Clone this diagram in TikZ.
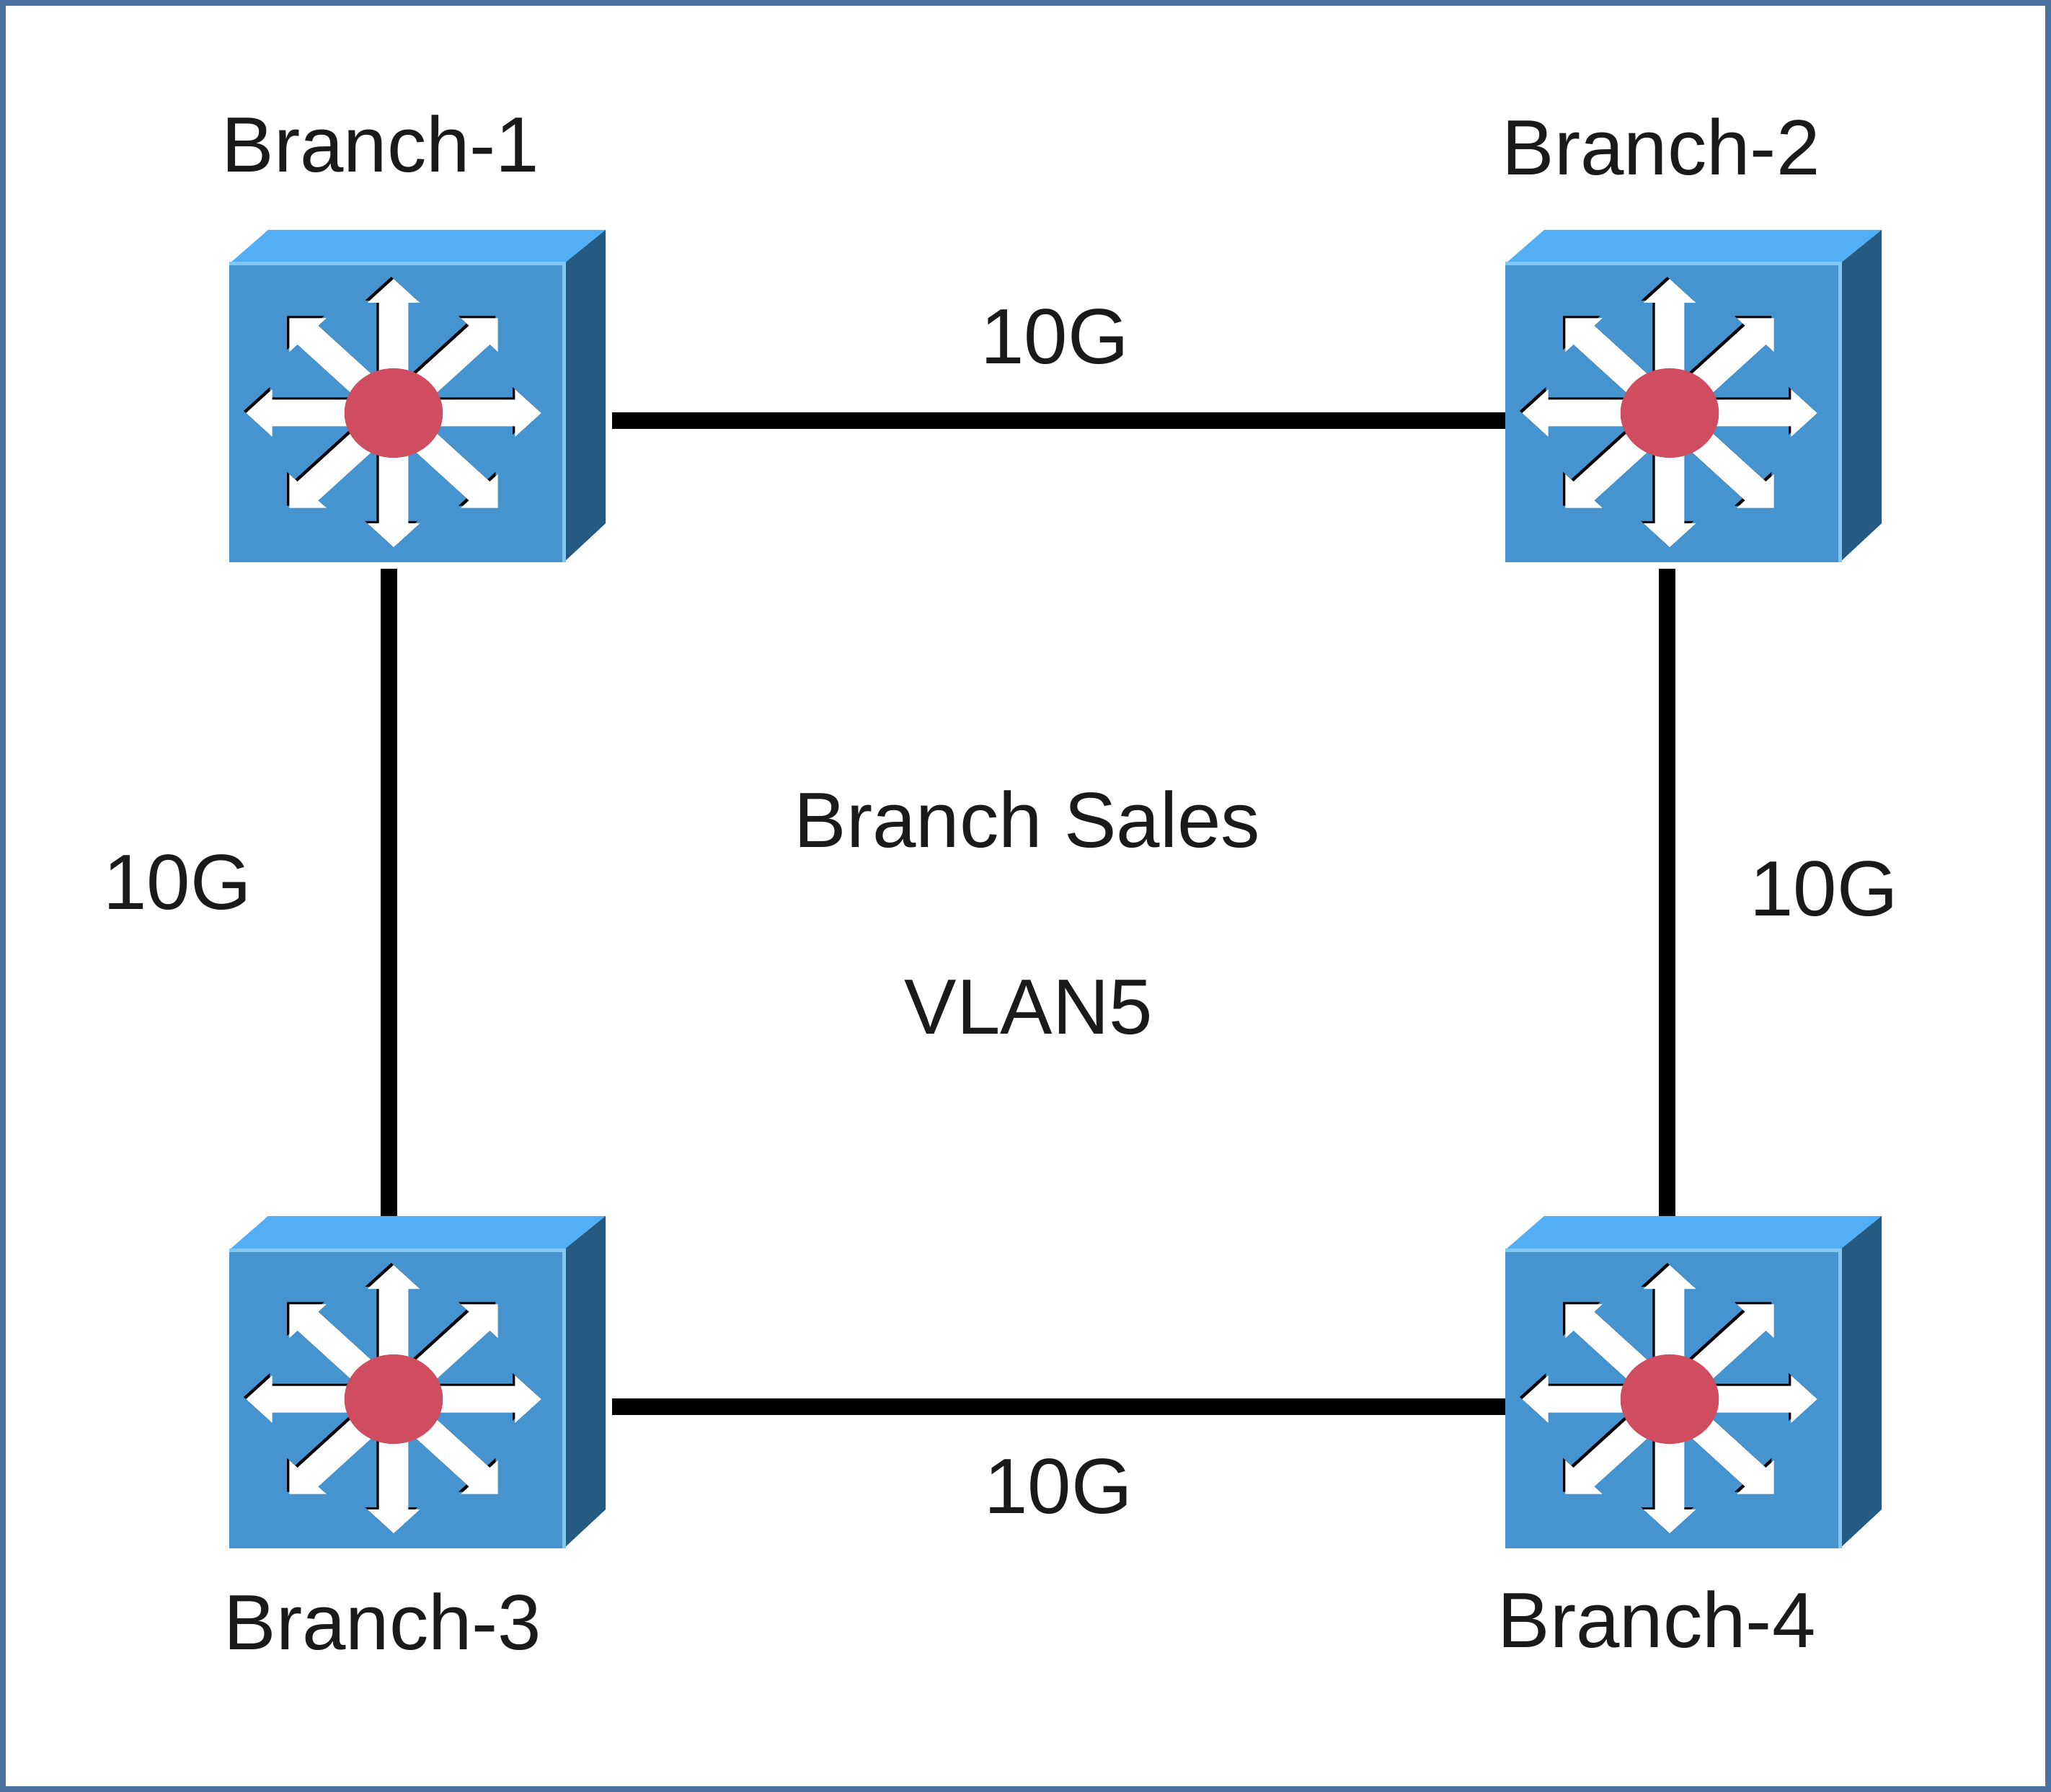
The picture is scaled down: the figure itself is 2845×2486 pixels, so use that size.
\documentclass[tikz,border=0pt]{standalone}
\usepackage{fontspec}
\setmainfont{Liberation Sans}
\definecolor{frameblue}{HTML}{4A729E}
\definecolor{facecol}{HTML}{4593CF}
\definecolor{topcol}{HTML}{52AEF5}
\definecolor{sidecol}{HTML}{255A82}
\definecolor{edgecol}{HTML}{82C8F0}
\definecolor{hubcol}{HTML}{D04D60}
\definecolor{textcol}{HTML}{1A1A1A}
\tikzset{
    switchbox/.style={rectangle, minimum width=5.22cm, minimum height=4.61cm, inner sep=0pt, outer sep=0pt},
    lbl/.style={anchor=base, inner sep=0pt, text=textcol, font=\fontsize{30.9}{36}\selectfont},
    link/.style={line width=0.23cm, black},
    switch/.pic={
        \fill[topcol] (-261,-183.5) -- (-207,-230.5) -- (261,-230.5) -- (203,-183.5) -- cycle;
        \fill[sidecol] (203,-183.5) -- (261,-230.5) -- (261,176.5) -- (203,230.5) -- cycle;
        \fill[facecol] (-261,-183.5) rectangle (203,230.5);
        \draw[edgecol, line width=0.05cm] (-261,-183.5) -- (203,-183.5) -- (203,230.5);
        \begin{scope}[shift={(-33,23.5)}, xscale=1.1]
            \foreach \a in {0,45,...,315} {
                \fill[black, shift={(-3,-3)}, rotate=\a] (40,-18.5) -- (153,-18.5) -- (153,-33) -- (186,0) -- (153,33) -- (153,18.5) -- (40,18.5) -- cycle;
            }
            \foreach \a in {0,45,...,315} {
                \fill[white, rotate=\a] (40,-18.5) -- (153,-18.5) -- (153,-33) -- (186,0) -- (153,33) -- (153,18.5) -- (40,18.5) -- cycle;
            }
            \fill[hubcol] (0,0) circle (0.62cm);
        \end{scope}
    }
}
\begin{document}
\begin{tikzpicture}[x=0.01cm, y=-0.01cm]
    \useasboundingbox (0,0) rectangle (2845,2486);
    \draw[frameblue, line width=0.08cm, fill=white] (4,4) rectangle (2841,2482);

    \node[switchbox] (branch1) at (579,549.5) {};
    \node[switchbox] (branch2) at (2349,549.5) {};
    \node[switchbox] (branch3) at (579,1917.5) {};
    \node[switchbox] (branch4) at (2349,1917.5) {};
    \pic at (branch1) {switch};
    \pic at (branch2) {switch};
    \pic at (branch3) {switch};
    \pic at (branch4) {switch};

    \draw[link] ([shift={(0.09cm,-0.34cm)}]branch1.east) -- ([yshift=-0.34cm]branch2.west);
    \draw[link] ([shift={(0.09cm,-0.34cm)}]branch3.east) -- ([yshift=-0.34cm]branch4.west);
    \draw[link] ([shift={(-0.39cm,-0.09cm)}]branch1.south) -- ([xshift=-0.39cm]branch3.north);
    \draw[link] ([shift={(-0.37cm,-0.09cm)}]branch2.south) -- ([xshift=-0.37cm]branch4.north);

    \node[lbl] (name1) at (528,239) {Branch-1};
    \node[lbl] (name2) at (2304,243) {Branch-2};
    \node[lbl] (name3) at (531,2288) {Branch-3};
    \node[lbl] (name4) at (2298,2285) {Branch-4};

    \node[lbl] (speedtop) at (1463,505) {10G};
    \node[lbl] (speedleft) at (246,1262) {10G};
    \node[lbl] (speedright) at (2530,1271) {10G};
    \node[lbl] (speedbottom) at (1468,2099) {10G};

    \node[lbl] (sales) at (1425,1176) {Branch Sales};
    \node[lbl] (vlan) at (1427,1435) {VLAN5};
\end{tikzpicture}
\end{document}
